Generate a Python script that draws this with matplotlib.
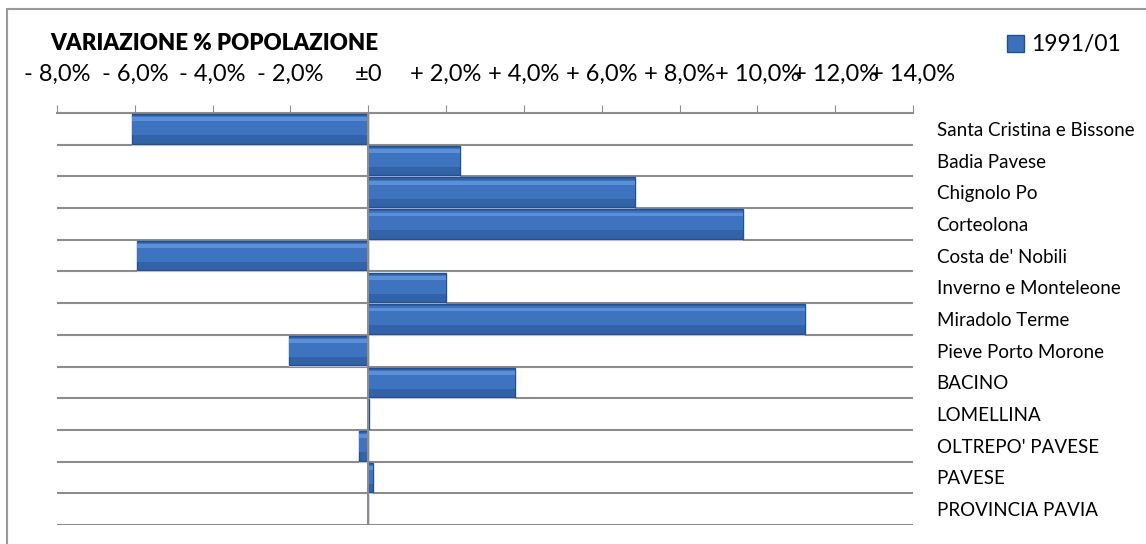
import matplotlib.pyplot as plt
import matplotlib.patches as mpatches
import numpy as np

# Data
comuni = ['Santa Cristina e Bissone', 'Badia Pavese', 'Chignolo Po', 'Corteolona',
          "Costa de' Nobili", 'Inverno e Monteleone', 'Miradolo Terme',
          'Pieve Porto Morone', 'BACINO', 'LOMELLINA', "OLTREPO' PAVESE",
          'PAVESE', 'PROVINCIA PAVIA']
variazione = [-6.08, 2.35, 6.86, 9.63, -5.95, 2.00, 11.22, -2.05, 3.77, 0.02, -0.24, 0.12, -0.01]
serie = '1991/01'
ticks = [-8, -6, -4, -2, 0, 2, 4, 6, 8, 10, 12, 14]


def fmt(v):
    if v == 0:
        return '±0'
    s = f'{abs(v):.1f}'.replace('.', ',')
    return ('+ ' if v > 0 else '- ') + s + '%'


plt.rcParams['font.family'] = ['Lato', 'DejaVu Sans']

fig = plt.figure(figsize=(11.46, 5.44), dpi=100)
ax = fig.add_axes([57/1146, 1 - 525/544, (913-57)/1146, (525-113)/544])

# outer frame
fig.patches.append(mpatches.Rectangle((7/1146, -0.01), 1.0, 1 - 9/544 + 0.01,
                                      transform=fig.transFigure, fill=False,
                                      edgecolor='#999999', lw=1.5))

y = np.arange(len(comuni))
# shadow, bar body, lighter upper part, highlight
ax.barh(y + 0.08, variazione, height=0.9, color='#dadada', zorder=2)
ax.barh(y, variazione, height=0.93, color='#3263a8', edgecolor='#24508f',
        lw=1.0, zorder=3)
ax.barh(y - 0.1, variazione, height=0.6, color='#3d73bf', lw=0, zorder=4)
ax.barh(y - 0.3, variazione, height=0.12, color='#5a90d8', lw=0, zorder=5)

# gridlines between rows
for b in np.arange(len(comuni) + 1) - 0.5:
    ax.axhline(b, color='#8c8c8c', lw=1.5, zorder=1)
ax.axvline(0, color='#8c8c8c', lw=1.5, zorder=6)

ax.set_xlim(-8, 14)
ax.set_ylim(len(comuni) - 0.5, -0.5)
ax.xaxis.tick_top()
ax.set_xticks(ticks)
ax.set_xticklabels([fmt(t) for t in ticks], fontsize=17)
ax.tick_params(axis='x', length=6, color='#8c8c8c', pad=14)
ax.yaxis.tick_right()
ax.set_yticks(y)
ax.set_yticklabels(comuni, fontsize=13.5)
ax.tick_params(axis='y', length=0, pad=17)

for s in ['bottom', 'left', 'right']:
    ax.spines[s].set_visible(False)
ax.spines['top'].set_color('#8c8c8c')
ax.spines['top'].set_linewidth(1.5)

fig.text(50/1146, 1 - 44/544, 'VARIAZIONE % POPOLAZIONE', fontsize=16,
         fontweight='heavy', va='center', ha='left')

ax.legend(handles=[mpatches.Patch(facecolor='#3b70ba', edgecolor='#24508f', label=serie)],
          loc='center left', bbox_to_anchor=(986/1146, 1 - 45/544),
          bbox_transform=fig.transFigure, frameon=False, fontsize=16.5,
          handlelength=0.75, handleheight=0.75, handletextpad=0.3)

plt.savefig('out.png', dpi=100)
